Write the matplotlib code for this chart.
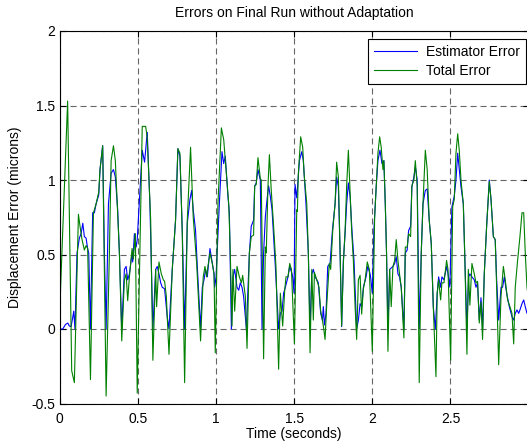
"""Errors on final run without adaptation (MATLAB-style figure)."""

import matplotlib
matplotlib.use("Agg")
import matplotlib.pyplot as plt

# Estimator error: (time, value) vertices
est_t = [
    0.0, 0.021, 0.038, 0.053, 0.063, 0.074, 0.085, 0.091, 0.099, 0.112, 0.127, 0.138, 0.149,
    0.159, 0.170, 0.180, 0.187, 0.198, 0.212, 0.223, 0.234, 0.251, 0.259, 0.276, 0.287, 0.298,
    0.313, 0.330, 0.345, 0.357, 0.372, 0.383, 0.398, 0.415, 0.426, 0.436, 0.447, 0.464, 0.468,
    0.479, 0.490, 0.497, 0.529, 0.544, 0.561, 0.578, 0.597, 0.615, 0.625, 0.636, 0.647, 0.657,
    0.672, 0.689, 0.700, 0.721, 0.742, 0.757, 0.770, 0.785, 0.800, 0.817, 0.834, 0.845, 0.855,
    0.870, 0.881, 0.902, 0.913, 0.924, 0.934, 0.945, 0.962, 0.977, 0.988, 0.992, 1.001, 1.022,
    1.039, 1.050, 1.060, 1.077, 1.086, 1.099, 1.109, 1.120, 1.135, 1.146, 1.156, 1.167, 1.177,
    1.195, 1.214, 1.226, 1.241, 1.248, 1.258, 1.269, 1.284, 1.295, 1.305, 1.316, 1.327, 1.337,
    1.348, 1.359, 1.380, 1.401, 1.412, 1.423, 1.433, 1.444, 1.461, 1.472, 1.487, 1.491, 1.500,
    1.506, 1.517, 1.534, 1.549, 1.559, 1.576, 1.591, 1.602, 1.613, 1.623, 1.634, 1.645, 1.655,
    1.670, 1.681, 1.687, 1.694, 1.704, 1.715, 1.730, 1.745, 1.762, 1.772, 1.783, 1.794, 1.804,
    1.815, 1.826, 1.836, 1.847, 1.858, 1.870, 1.883, 1.900, 1.911, 1.922, 1.932, 1.943, 1.960,
    1.971, 1.986, 1.989, 2.000, 2.010, 2.025, 2.036, 2.049, 2.062, 2.074, 2.083, 2.091, 2.100,
    2.111, 2.121, 2.132, 2.143, 2.153, 2.164, 2.174, 2.185, 2.202, 2.211, 2.223, 2.232, 2.245,
    2.253, 2.266, 2.275, 2.287, 2.300, 2.313, 2.324, 2.339, 2.351, 2.364, 2.377, 2.390, 2.403,
    2.415, 2.424, 2.437, 2.445, 2.458, 2.475, 2.484, 2.496, 2.509, 2.524, 2.535, 2.546, 2.556,
    2.567, 2.582, 2.592, 2.605, 2.616, 2.624, 2.637, 2.652, 2.663, 2.673, 2.684, 2.695, 2.705,
    2.716, 2.731, 2.748, 2.759, 2.774, 2.786, 2.795, 2.808, 2.823, 2.833, 2.844, 2.859, 2.876,
    2.893, 2.904, 2.914, 2.925, 2.936, 2.944, 2.957, 2.968, 2.978, 2.989, 3.0,
]
est_err = [
    0.0, 0.0, 0.03, 0.04, 0.02, 0.016, 0.08, 0.12, 0.0, 0.51, 0.61, 0.64, 0.71,
    0.62, 0.61, 0.54, 0.51, 0.0, 0.78, 0.78, 0.84, 0.90, 1.07, 1.23, 0.51, 0.0,
    0.84, 1.045, 1.07, 1.02, 0.80, 0.51, 0.0, 0.40, 0.42, 0.33, 0.37, 0.51, 0.45,
    0.64, 0.55, 0.60, 1.20, 1.12, 1.32, 0.84, 0.0, 0.40, 0.42, 0.37, 0.31, 0.28,
    0.27, 0.08, 0.0, 0.40, 0.73, 1.21, 1.16, 0.66, 0.0, 0.71, 0.87, 0.93, 0.80,
    0.66, 0.42, 0.0, 0.28, 0.33, 0.40, 0.35, 0.54, 0.44, 0.37, 0.28, 0.35, 0.84,
    1.19, 1.11, 1.16, 0.89, 0.78, 0.0, 0.35, 0.40, 0.28, 0.26, 0.31, 0.28, 0.22,
    0.0, 0.51, 0.69, 0.73, 0.96, 0.98, 1.07, 1.00, 0.0, 0.51, 0.75, 0.87, 0.96,
    0.89, 0.80, 0.42, 0.0, 0.105, 0.12, 0.24, 0.28, 0.35, 0.42, 0.37, 0.35, 0.24,
    0.97, 0.88, 1.13, 1.19, 1.13, 0.84, 0.51, 0.0, 0.37, 0.40, 0.35, 0.33, 0.31,
    0.105, 0.06, 0.15, 0.027, 0.105, 0.42, 0.44, 0.66, 0.84, 1.02, 0.955, 0.51, 0.016,
    0.46, 0.64, 0.84, 0.98, 0.89, 0.66, 0.46, 0.0, 0.06, 0.17, 0.15, 0.28, 0.35,
    0.42, 0.37, 0.35, 0.24, 0.66, 0.955, 1.13, 1.20, 1.11, 1.13, 0.84, 0.51, 0.0,
    0.40, 0.41, 0.42, 0.44, 0.485, 0.37, 0.35, 0.28, 0.0, 0.51, 0.53, 0.66, 0.69,
    0.955, 1.02, 1.09, 1.00, 0.0, 0.51, 0.84, 0.93, 0.94, 0.73, 0.575, 0.15, 0.0,
    0.24, 0.35, 0.28, 0.35, 0.33, 0.42, 0.37, 0.28, 0.82, 0.89, 1.00, 1.18, 1.07,
    0.955, 0.84, 0.46, 0.0, 0.35, 0.37, 0.35, 0.33, 0.28, 0.31, 0.06, 0.21, 0.0,
    0.37, 0.69, 1.00, 0.87, 0.62, 0.60, 0.33, 0.06, 0.28, 0.28, 0.35, 0.24, 0.15,
    0.083, 0.06, 0.105, 0.128, 0.105, 0.128, 0.17, 0.195, 0.15, 0.105, 0.15,
]

# Total error: (time, value) vertices
tot_t = [
    0.0, 0.052, 0.078, 0.095, 0.121, 0.131, 0.144, 0.159, 0.170, 0.180, 0.198, 0.217, 0.234,
    0.251, 0.259, 0.276, 0.298, 0.319, 0.330, 0.345, 0.357, 0.372, 0.383, 0.398, 0.415, 0.426,
    0.436, 0.447, 0.464, 0.472, 0.485, 0.497, 0.529, 0.551, 0.561, 0.583, 0.597, 0.615, 0.621,
    0.636, 0.651, 0.664, 0.672, 0.683, 0.700, 0.721, 0.742, 0.757, 0.770, 0.785, 0.800, 0.817,
    0.838, 0.855, 0.877, 0.902, 0.919, 0.930, 0.941, 0.949, 0.962, 0.977, 0.988, 0.996, 1.013,
    1.035, 1.050, 1.065, 1.082, 1.092, 1.103, 1.109, 1.120, 1.135, 1.150, 1.163, 1.171, 1.188,
    1.199, 1.214, 1.226, 1.241, 1.248, 1.258, 1.269, 1.284, 1.290, 1.305, 1.316, 1.322, 1.333,
    1.342, 1.354, 1.369, 1.384, 1.401, 1.412, 1.427, 1.440, 1.448, 1.461, 1.472, 1.483, 1.502,
    1.517, 1.521, 1.527, 1.542, 1.555, 1.564, 1.581, 1.591, 1.602, 1.613, 1.623, 1.630, 1.645,
    1.659, 1.670, 1.681, 1.687, 1.698, 1.708, 1.725, 1.734, 1.747, 1.762, 1.772, 1.783, 1.794,
    1.804, 1.815, 1.826, 1.836, 1.847, 1.858, 1.868, 1.879, 1.890, 1.900, 1.911, 1.922, 1.932,
    1.943, 1.954, 1.968, 1.981, 2.000, 2.015, 2.025, 2.036, 2.047, 2.057, 2.068, 2.074, 2.083,
    2.091, 2.100, 2.111, 2.121, 2.132, 2.143, 2.153, 2.164, 2.174, 2.185, 2.202, 2.211, 2.223,
    2.232, 2.245, 2.253, 2.266, 2.275, 2.287, 2.300, 2.313, 2.324, 2.339, 2.351, 2.364, 2.377,
    2.390, 2.407, 2.415, 2.424, 2.437, 2.445, 2.458, 2.475, 2.484, 2.501, 2.514, 2.524, 2.535,
    2.546, 2.556, 2.567, 2.582, 2.592, 2.605, 2.614, 2.624, 2.637, 2.652, 2.663, 2.673, 2.684,
    2.695, 2.705, 2.716, 2.731, 2.748, 2.759, 2.774, 2.786, 2.795, 2.808, 2.823, 2.838, 2.850,
    2.865, 2.880, 2.893, 2.904, 2.914, 2.929, 2.944, 2.957, 2.968, 2.978, 2.989, 3.0,
]
tot_err = [
    0.08, 1.53, -0.28, -0.36, 0.77, 0.69, 0.60, 0.53, 0.56, 0.54, -0.34, 0.78, 0.84,
    0.92, 1.07, 1.23, -0.45, 0.51, 1.13, 1.23, 1.13, 0.78, 0.51, -0.08, 0.33, 0.37,
    0.19, 0.35, 0.54, 0.47, 0.64, -0.43, 1.36, 1.36, 1.28, 0.73, -0.21, 0.40, 0.15,
    0.45, 0.37, 0.33, 0.32, 0.22, -0.17, 0.40, 0.73, 1.21, 1.18, 0.64, -0.36, 0.73,
    1.22, 0.75, 0.44, -0.08, 0.35, 0.42, 0.35, 0.42, 0.51, 0.44, 0.37, -0.16, 0.84,
    1.35, 1.27, 1.07, 0.84, 0.51, 0.02, 0.40, 0.12, 0.42, 0.35, 0.31, 0.36, 0.22,
    -0.13, 0.51, 0.62, 0.63, 0.96, 0.97, 1.15, 1.01, 1.00, -0.20, 0.55, 0.51, 0.96,
    1.17, 0.93, 0.69, 0.42, -0.27, 0.24, 0.02, 0.26, 0.35, 0.35, 0.44, 0.40, -0.10,
    0.80, 0.79, 1.04, 1.29, 1.22, 1.04, 0.84, 0.51, -0.16, 0.40, 0.06, 0.38, 0.33,
    0.28, 0.12, 0.06, 0.02, -0.07, 0.15, 0.44, 0.40, 0.66, 0.84, 1.12, 1.02, 0.53,
    0.02, 0.44, 0.66, 0.96, 1.20, 0.91, 0.66, 0.46, 0.15, -0.07, 0.33, 0.36, 0.10,
    0.27, 0.33, 0.45, 0.40, -0.15, 0.75, 0.96, 1.18, 1.29, 1.22, 1.07, 1.13, 0.84,
    0.51, -0.15, 0.40, 0.15, 0.42, 0.46, 0.60, 0.46, 0.37, 0.28, -0.06, 0.55, 0.55,
    0.64, 0.62, 0.96, 1.00, 1.13, 0.96, -0.36, 0.51, 0.84, 1.20, 1.07, 0.73, 0.575,
    0.15, -0.32, 0.24, 0.33, 0.195, 0.31, 0.31, 0.46, 0.40, -0.21, 0.82, 0.87, 1.18,
    1.31, 1.20, 1.00, 0.84, 0.46, -0.17, 0.40, 0.16, 0.44, 0.37, 0.31, 0.32, 0.04,
    0.18, -0.07, 0.37, 0.69, 0.99, 0.87, 0.62, 0.60, 0.28, -0.24, 0.22, 0.42, 0.33,
    0.195, 0.15, 0.105, -0.10, 0.28, 0.46, 0.62, 0.78, 0.78, 0.51, 0.28, 0.20,
]

x_ticks = [0, 0.5, 1, 1.5, 2, 2.5]
x_tick_labels = ["0", "0.5", "1", "1.5", "2", "2.5"]
y_ticks = [-0.5, 0, 0.5, 1, 1.5, 2]
y_tick_labels = ["-0.5", "0", "0.5", "1", "1.5", "2"]

plt.rcParams["font.family"] = ["Liberation Sans", "DejaVu Sans"]
plt.rcParams["font.size"] = 10

W, H = 527, 441
fig = plt.figure(figsize=(W / 100, H / 100), dpi=100)
# axes box in pixels: left 59.5, right 528.7 (just past the image edge), top 31, bottom 403.5
ax = fig.add_axes([59.5 / W, (H - 403.5) / H, 469.2 / W, 372.5 / H])

ax.plot(est_t, est_err, color=(0, 0, 1), linewidth=0.8, label="Estimator Error")
ax.plot(tot_t, tot_err, color=(0, 0.5, 0), linewidth=0.8, label="Total Error")

ax.set_xlim(0, 3)
ax.set_ylim(-0.5, 2)
ax.set_xticks(x_ticks)
ax.set_xticklabels(x_tick_labels)
ax.set_yticks(y_ticks)
ax.set_yticklabels(y_tick_labels)

ax.grid(True, color="0.4", linestyle=(0, (5.5, 3.5)), linewidth=0.8)
ax.tick_params(direction="in", length=4, width=0.8, top=True, right=True)
ax.tick_params(axis="x", pad=6)
ax.tick_params(axis="y", pad=3)
for sp in ax.spines.values():
    sp.set_linewidth(0.8)
    sp.set_color("black")

ax.set_title("Errors on Final Run without Adaptation", fontsize=10, pad=10)
ax.set_xlabel("Time (seconds)", labelpad=1)
ax.set_ylabel("Displacement Error (microns)", labelpad=7)

leg = ax.legend(
    loc="upper right",
    bbox_to_anchor=(0.994, 0.9785),
    borderaxespad=0,
    fancybox=False,
    framealpha=1,
    edgecolor="black",
    handlelength=3.1,
    handletextpad=0.7,
    borderpad=0.4,
    labelspacing=0.4,
)
leg.get_frame().set_linewidth(0.8)

fig.savefig("out.png", dpi=100)
plt.close(fig)
